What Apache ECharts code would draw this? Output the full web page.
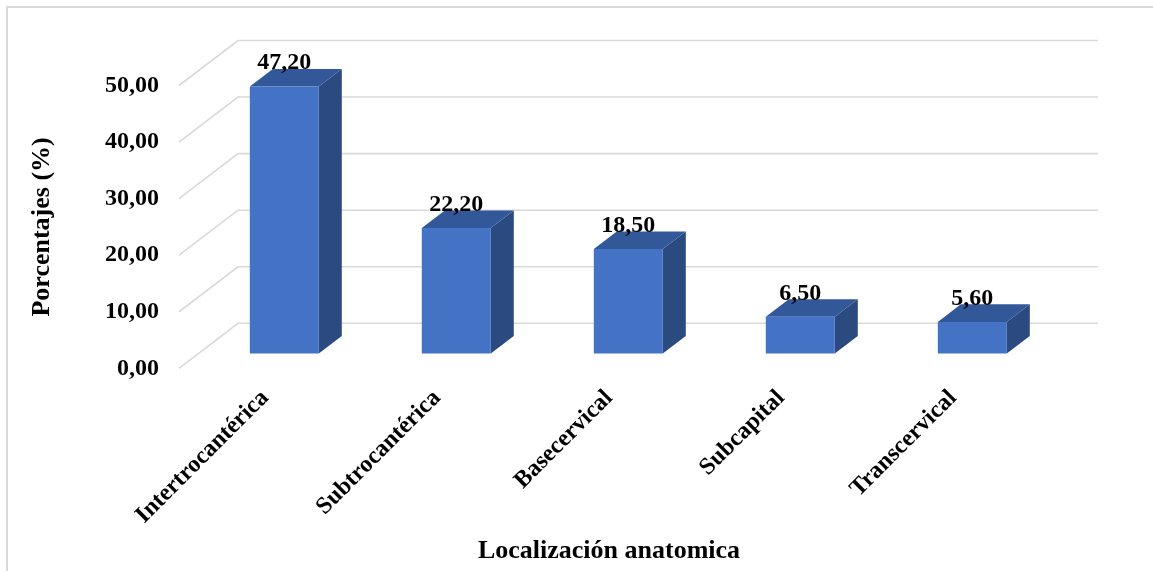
<!DOCTYPE html>
<html>
<head>
<meta charset="utf-8">
<script src="https://cdn.jsdelivr.net/npm/echarts@6/dist/echarts.min.js"></script>
<style>
  html, body { margin: 0; padding: 0; background: #ffffff; }
  #chart { width: 1153px; height: 571px; }
</style>
</head>
<body>
<div id="chart"></div>
<script>
// Fracture location shares (%)
const categories = ['Intertrocantérica', 'Subtrocantérica', 'Basecervical', 'Subcapital', 'Transcervical'];
const percentages = [47.20, 22.20, 18.50, 6.50, 5.60];
const yTicks = [0, 10, 20, 30, 40, 50];

const FONT = '"Liberation Serif", "Times New Roman", serif';

// Oblique projection of the depth axis: full wall depth (front edge -> back wall)
const DEPTH = [59, -45];
const BAR_FRONT = 0.327;   // where the bar front face sits along the depth
const BAR_DEPTH = 0.39;    // thickness of each bar along the depth
const BAR_WIDTH = 0.401;   // share of a category band taken by a bar

const fmt = v => v.toFixed(2).replace('.', ',');

const chart = echarts.init(document.getElementById('chart'), null, { renderer: 'canvas' });

// Back wall gridlines with their diagonal floor/side edges
function renderGrid(params, api) {
  const v = api.value(1);
  const band = api.size([1, 0])[0];
  const first = api.coord([0, v]);
  const last = api.coord([categories.length - 1, v]);
  const xL = first[0] - band / 2;
  const xR = last[0] + band / 2;
  const y = first[1];
  return {
    type: 'polyline',
    shape: { points: [[xL, y], [xL + DEPTH[0], y + DEPTH[1]], [xR + DEPTH[0], y + DEPTH[1]]] },
    style: { stroke: '#d9d9d9', lineWidth: 1.6, fill: null },
    silent: true
  };
}

// 3D column: front face, top face, right side and value label
function renderBar(params, api) {
  const i = api.value(0);
  const v = api.value(1);
  const base = api.coord([i, 0]);
  const top = api.coord([i, v]);
  const band = api.size([1, 0])[0];
  const w = band * BAR_WIDTH;
  const ox = DEPTH[0] * BAR_FRONT, oy = DEPTH[1] * BAR_FRONT;
  const bx = DEPTH[0] * BAR_DEPTH, by = DEPTH[1] * BAR_DEPTH;
  const x0 = base[0] - w / 2 + ox;
  const x1 = x0 + w;
  const yb = base[1] + oy;
  const yt = top[1] + oy;
  return {
    type: 'group',
    children: [
      {
        type: 'polygon',
        shape: { points: [[x1, yt], [x1 + bx, yt + by], [x1 + bx, yb + by], [x1, yb]] },
        style: { fill: '#2b4a80' }
      },
      {
        type: 'polygon',
        shape: { points: [[x0, yt], [x0 + bx, yt + by], [x1 + bx, yt + by], [x1, yt]] },
        style: { fill: '#325899' }
      },
      {
        type: 'polygon',
        shape: { points: [[x0, yt], [x1, yt], [x1, yb], [x0, yb]] },
        style: { fill: '#4472c4' }
      },
      {
        type: 'text',
        style: {
          text: fmt(v),
          x: x0 + w / 2,
          y: yt - 23.5,
          align: 'center',
          verticalAlign: 'middle',
          fill: '#000000',
          fontFamily: FONT,
          fontWeight: 'bold',
          fontSize: 24
        }
      }
    ]
  };
}

const option = {
  backgroundColor: '#ffffff',
  animation: false,
  graphic: [{
    type: 'rect',
    shape: { x: 7, y: 7, width: 1170, height: 600 },
    style: { fill: null, stroke: '#d9d9d9', lineWidth: 2 },
    silent: true,
    z: -10
  }],
  grid: {
    left: 179,
    right: 114,
    top: 85.5,
    bottom: 202.7,
    containLabel: false,
    outerBoundsMode: 'none'
  },
  xAxis: {
    type: 'category',
    data: categories,
    axisLine: { show: false },
    axisTick: { show: false },
    splitLine: { show: false },
    axisLabel: {
      interval: 0,
      rotate: 45,
      margin: 26,
      color: '#000000',
      fontFamily: FONT,
      fontWeight: 'bold',
      fontSize: 24
    },
    name: 'Localización anatomica',
    nameLocation: 'middle',
    nameGap: 170,
    nameTextStyle: {
      color: '#000000',
      fontFamily: FONT,
      fontWeight: 'bold',
      fontSize: 26
    }
  },
  yAxis: {
    type: 'value',
    min: 0,
    max: 50,
    interval: 10,
    axisLine: { show: false },
    axisTick: { show: false },
    splitLine: { show: false },
    axisLabel: {
      margin: 20,
      formatter: v => fmt(v),
      color: '#000000',
      fontFamily: FONT,
      fontWeight: 'bold',
      fontSize: 24
    },
    name: 'Porcentajes (%)',
    nameLocation: 'middle',
    nameGap: 124,
    nameRotate: 90,
    nameTextStyle: {
      color: '#000000',
      fontFamily: FONT,
      fontWeight: 'bold',
      fontSize: 26
    }
  },
  series: [
    {
      type: 'custom',
      name: 'grid',
      renderItem: renderGrid,
      data: yTicks.map(t => [0, t]),
      clip: false,
      silent: true,
      z: 1
    },
    {
      type: 'custom',
      name: 'Porcentajes',
      renderItem: renderBar,
      data: percentages.map((p, i) => [i, p]),
      clip: false,
      z: 2
    }
  ]
};

chart.setOption(option);
</script>
</body>
</html>
